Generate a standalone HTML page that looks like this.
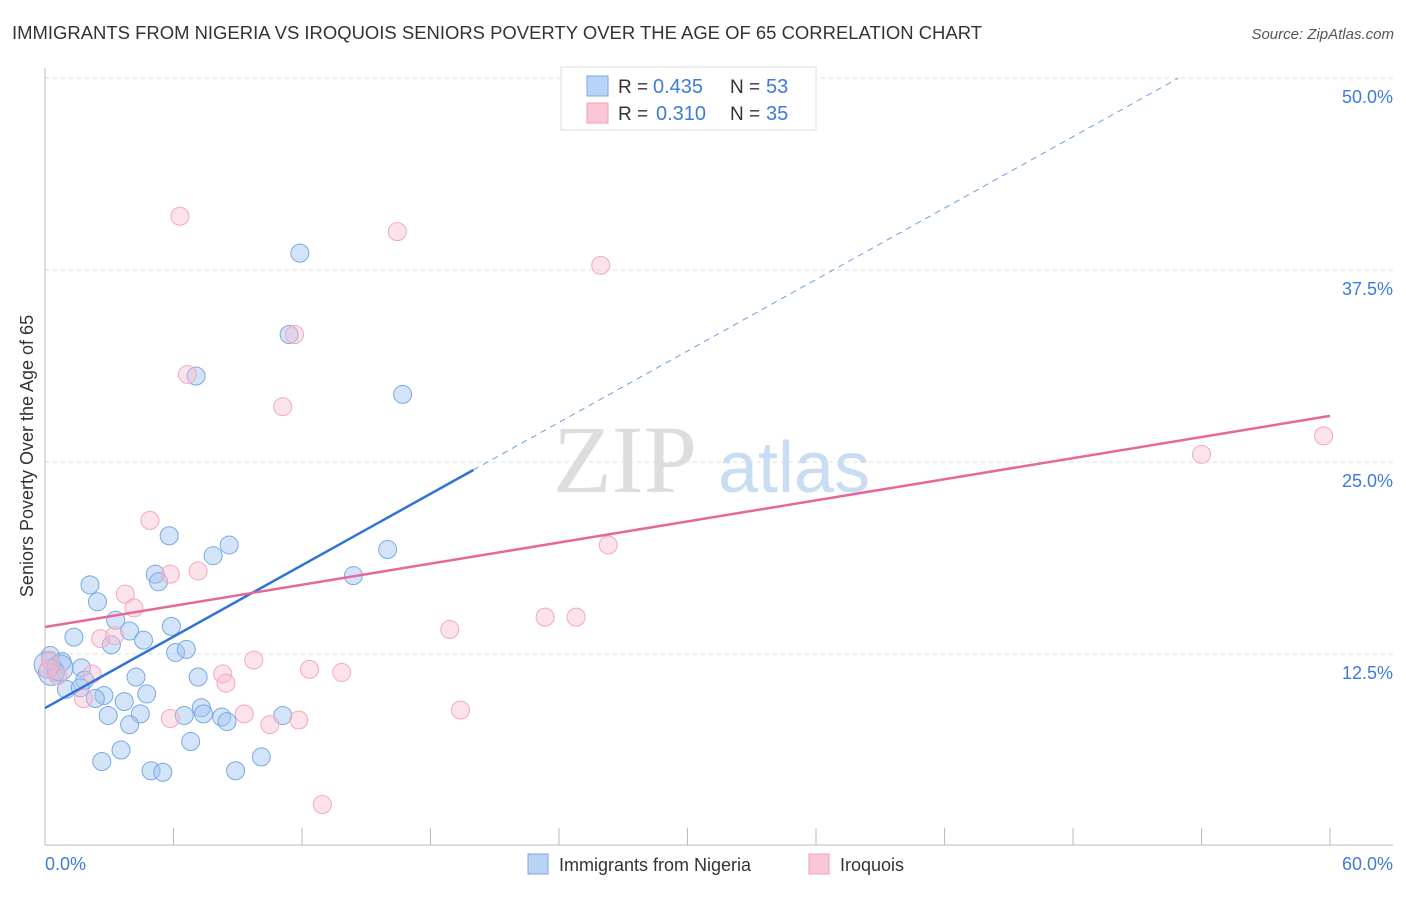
<!DOCTYPE html>
<html><head><meta charset="utf-8"><style>
body{margin:0;background:#fff;font-family:"Liberation Sans",sans-serif}
</style></head><body>
<svg width="1406" height="892" xmlns="http://www.w3.org/2000/svg" font-family="Liberation Sans, sans-serif">
<text x="12" y="39" font-size="18" fill="#333" textLength="970" lengthAdjust="spacingAndGlyphs">IMMIGRANTS FROM NIGERIA VS IROQUOIS SENIORS POVERTY OVER THE AGE OF 65 CORRELATION CHART</text>
<text x="1394" y="39" font-size="15" fill="#555" font-style="italic" text-anchor="end">Source: ZipAtlas.com</text>
<g>
<text x="553" y="492" font-size="96" font-family="Liberation Serif, serif" fill="#ddd">ZIP</text>
<text x="718" y="492" font-size="72" fill="#c8dcf3">atlas</text>
</g>
<g id="grid"></g>
<line x1="45" y1="68" x2="45" y2="845" stroke="#bbb"/>
<line x1="45" y1="845" x2="1393" y2="845" stroke="#bbb"/>
<g id="xticks"></g>
<text x="45" y="870" font-size="18" fill="#3d7bd9">0.0%</text>
<text x="1393" y="870" font-size="18" fill="#3d7bd9" text-anchor="end">60.0%</text>
<text transform="translate(33,456) rotate(-90)" font-size="18" fill="#333" text-anchor="middle">Seniors Poverty Over the Age of 65</text>
<g id="pts"></g>
<g id="lines"></g>
<g>
<rect x="561" y="67" width="255" height="63" fill="#fff" stroke="#ddd"/>
<rect x="587" y="76" width="21" height="20" fill="#b8d3f5" stroke="#7aa8e6"/>
<rect x="587" y="103" width="21" height="20" fill="#f9c6d6" stroke="#f0a0b8"/>
<text x="618" y="93" font-size="19" fill="#333">R =</text>
<text x="653" y="93" font-size="20" fill="#3d7bd9">0.435</text>
<text x="730" y="93" font-size="19" fill="#333">N =</text>
<text x="766" y="93" font-size="20" fill="#3d7bd9">53</text>
<text x="618" y="120" font-size="19" fill="#333">R =</text>
<text x="656" y="120" font-size="20" fill="#3d7bd9">0.310</text>
<text x="730" y="120" font-size="19" fill="#333">N =</text>
<text x="766" y="120" font-size="20" fill="#3d7bd9">35</text>
</g>
<g>
<rect x="528" y="854" width="20" height="20" fill="#b8d3f5" stroke="#7aa8e6"/>
<text x="559" y="871" font-size="18" fill="#333">Immigrants from Nigeria</text>
<rect x="809" y="854" width="20" height="20" fill="#f9c6d6" stroke="#f0a0b8"/>
<text x="840" y="871" font-size="18" fill="#333">Iroquois</text>
</g>
</svg>
<script>
const yTicks=[12.5,25,37.5,50];
const yTickLabels=["12.5%","25.0%","37.5%","50.0%"];
const xTicks=[0,6,12,18,24,30,36,42,48,54,60];
const blueX=[11.9,11.4,7.05,16.7,5.8,8.6,7.85,16.0,5.15,5.3,14.4,2.1,2.45,3.3,3.95,1.35,4.6,5.9,3.1,6.1,6.6,0.25,0.8,1.7,4.25,7.15,0.5,1.85,1.0,1.65,2.75,2.35,4.75,3.7,4.45,2.95,7.3,7.4,6.5,8.25,8.5,11.1,3.95,6.8,3.55,2.65,10.1,4.95,5.5,8.9,0.1,0.3,0.7];
const blueY=[38.6,33.3,30.6,29.4,20.2,19.6,18.9,19.3,17.7,17.2,17.6,17.0,15.9,14.7,14.0,13.6,13.4,14.3,13.1,12.6,12.8,12.4,12.0,11.6,11.0,11.0,11.3,10.8,10.2,10.3,9.8,9.6,9.9,9.4,8.6,8.5,9.0,8.6,8.5,8.4,8.1,8.5,7.9,6.8,6.25,5.5,5.8,4.9,4.8,4.9,11.8,11.3,11.6];
const pinkX=[6.3,16.45,25.95,11.65,6.65,11.1,4.9,5.85,7.15,3.75,4.15,2.6,3.25,26.3,54.0,59.7,23.35,24.8,18.9,9.75,12.35,13.85,8.3,8.45,2.2,0.6,1.8,9.3,5.85,10.5,11.85,19.4,12.95,0.15,0.25];
const pinkY=[41.0,40.0,37.8,33.3,30.7,28.6,21.2,17.7,17.9,16.4,15.5,13.5,13.7,19.6,25.5,26.7,14.9,14.9,14.1,12.1,11.5,11.3,11.2,10.6,11.2,11.1,9.6,8.6,8.3,7.9,8.2,8.85,2.7,11.5,12.1];
const blueTrend=[8.98,0.775];
const pinkTrend=[14.26,0.229];
const NS="http://www.w3.org/2000/svg";
const sx=v=>45+v*21.417, sy=v=>846-v*15.36;
function mk(tag,attrs,parent){const e=document.createElementNS(NS,tag);for(const k in attrs)e.setAttribute(k,attrs[k]);document.getElementById(parent).appendChild(e);return e;}
yTicks.forEach((t,i)=>{
 const l=mk('line',{x1:45,x2:1393,y1:sy(t),y2:sy(t),stroke:'#ddd','stroke-dasharray':'4,4'},'grid');
 
 
 const tx=mk('text',{x:1393,y:sy(t)+25,'font-size':18,fill:'#3d7bd9','text-anchor':'end'},'grid');
 tx.textContent=yTickLabels[i];
 
 
});
xTicks.forEach(t=>{
 const l=mk('line',{x1:sx(t),x2:sx(t),y1:828,y2:845,stroke:'#bbb'},'xticks');
 
 
});
blueX.forEach((x,i)=>{
 const c=mk('circle',{cx:sx(x),cy:sy(blueY[i]),r:(i>=50?13:9),fill:'rgba(160,196,240,0.45)',stroke:'#78a8e4','stroke-width':1},'pts');
 
 
});
pinkX.forEach((x,i)=>{
 const c=mk('circle',{cx:sx(x),cy:sy(pinkY[i]),r:9,fill:'rgba(248,185,205,0.4)',stroke:'#f2a8c0','stroke-width':1},'pts');
 
 
});
const bf=x=>blueTrend[0]+blueTrend[1]*x, pf=x=>pinkTrend[0]+pinkTrend[1]*x;
let l1=mk('line',{x1:sx(0),y1:sy(bf(0)),x2:sx(20),y2:sy(bf(20)),stroke:'#2f72d8','stroke-width':2.5},'lines');


const xe=(50-blueTrend[0])/blueTrend[1];
let l2=mk('line',{x1:sx(20),y1:sy(bf(20)),x2:sx(xe),y2:sy(50),stroke:'#6a9fe0','stroke-width':1,'stroke-dasharray':'6,5'},'lines');


let l3=mk('line',{x1:sx(0),y1:sy(pf(0)),x2:sx(60),y2:sy(pf(60)),stroke:'#e8679a','stroke-width':2.5},'lines');


</script>
</body></html>
